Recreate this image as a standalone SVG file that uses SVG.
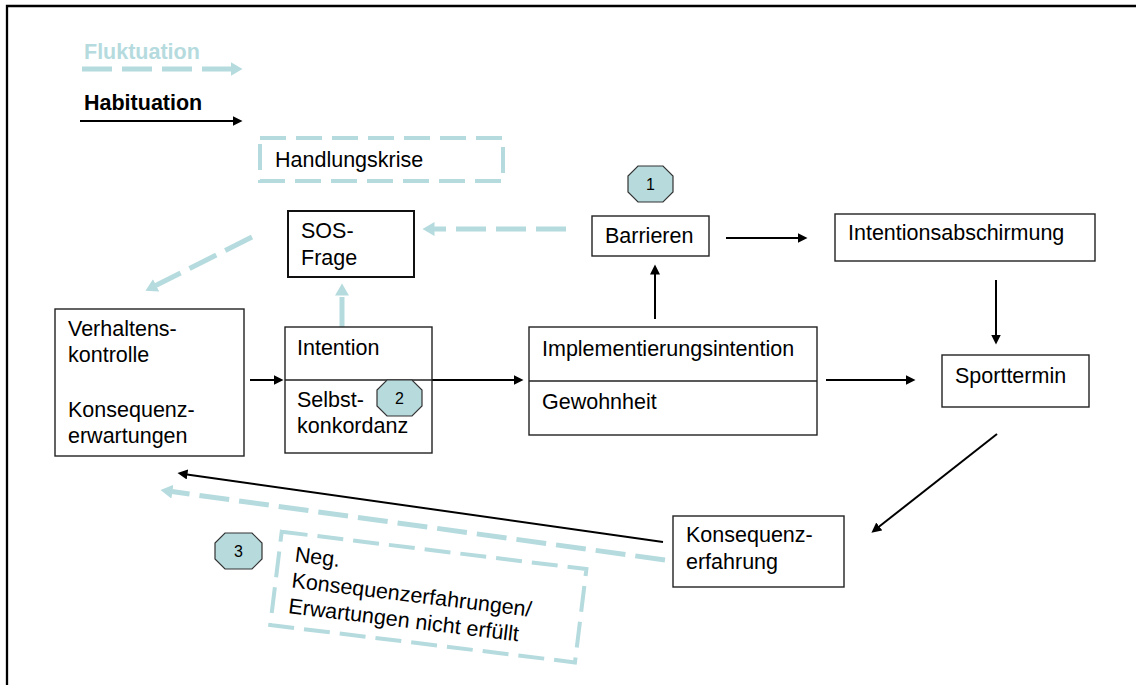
<svg xmlns="http://www.w3.org/2000/svg" width="1136" height="685" viewBox="0 0 1136 685">
  <style>
    text { font-family: "Liberation Sans", Arial, sans-serif; font-size: 21.5px; fill: #000; }
    .legend { font-weight: bold; }
    .fluk { fill: #b5dbde; }
    .box { fill: #fff; stroke: #222; stroke-width: 1.4; }
    .box2 { fill: #fff; stroke: #111; stroke-width: 2; }
    .dbox { fill: none; stroke: #b5dbde; stroke-width: 4; stroke-dasharray: 26 10; }
    .oct { fill: #b7dadd; stroke: #333; stroke-width: 1.2; }
    .num { font-size: 16px; text-anchor: middle; }
    .hab { fill: none; stroke: #000; stroke-width: 2; marker-end: url(#ah); }
    .fl { fill: none; stroke: #b5dbde; stroke-width: 5; stroke-dasharray: 30 10; marker-end: url(#at); }
  </style>
  <defs>
    <marker id="ah" markerUnits="userSpaceOnUse" markerWidth="11" markerHeight="11" refX="0.5" refY="5" orient="auto">
      <path d="M0,0 L10,5 L0,10 z" fill="#000"/>
    </marker>
    <marker id="at" markerUnits="userSpaceOnUse" markerWidth="13" markerHeight="15" refX="0.5" refY="7" orient="auto">
      <path d="M0,0 L12,7 L0,14 z" fill="#b5dbde"/>
    </marker>
  </defs>

  <!-- frame -->
  <path d="M7,685 V6 H1136" fill="none" stroke="#000" stroke-width="2.3"/>

  <!-- legend -->
  <g id="legend">
    <text class="legend fluk" x="84" y="59">Fluktuation</text>
    <line class="fl" x1="82" y1="69" x2="231" y2="69"/>
    <text class="legend" x="84" y="110">Habituation</text>
    <line class="hab" x1="80" y1="121" x2="233" y2="121"/>
  </g>

  <!-- connectors -->
  <g id="connectors">
    <line class="fl" x1="566" y1="229" x2="434" y2="229"/>
    <line class="fl" x1="342" y1="327" x2="342" y2="295"/>
    <line class="fl" x1="252" y1="237" x2="155.7" y2="285.6"/>
    <line class="fl" x1="665" y1="560" x2="171.9" y2="491.6"/>
    <line class="hab" x1="726" y1="238" x2="798" y2="238"/>
    <line class="hab" x1="655" y1="319" x2="655" y2="274"/>
    <line class="hab" x1="996" y1="280" x2="996" y2="335"/>
    <line class="hab" x1="250" y1="380" x2="274" y2="380"/>
    <line class="hab" x1="422" y1="380" x2="514" y2="380"/>
    <line class="hab" x1="826" y1="380" x2="906" y2="380"/>
    <line class="hab" x1="997" y1="434" x2="878.9" y2="526.8"/>
    <line class="hab" x1="663" y1="542" x2="186.9" y2="474.4"/>
  </g>

  <g id="handlungskrise">
    <rect class="dbox" x="260" y="138" width="243" height="43"/>
    <text x="275" y="167">Handlungskrise</text>
  </g>

  <g id="sos">
    <rect class="box2" x="288" y="211" width="126" height="66"/>
    <text x="301" y="238">SOS-</text>
    <text x="301" y="265">Frage</text>
  </g>

  <g id="barrieren">
    <rect class="box" x="592" y="216" width="117" height="40"/>
    <text x="605" y="243">Barrieren</text>
  </g>

  <g id="abschirmung">
    <rect class="box" x="835" y="214" width="260" height="47"/>
    <text x="848" y="240">Intentionsabschirmung</text>
  </g>

  <g id="verhalten">
    <rect class="box" x="55" y="309" width="189" height="147"/>
    <text x="68" y="336">Verhaltens-</text>
    <text x="68" y="362">kontrolle</text>
    <text x="68" y="417">Konsequenz-</text>
    <text x="68" y="443">erwartungen</text>
  </g>

  <g id="intention">
    <rect class="box" x="285" y="327" width="147" height="126"/>
    <line x1="285" y1="380" x2="432" y2="380" stroke="#222" stroke-width="1.4"/>
    <text x="297" y="355">Intention</text>
    <text x="297" y="407">Selbst-</text>
    <text x="297" y="433">konkordanz</text>
  </g>

  <g id="implementierung">
    <rect class="box" x="529" y="327" width="288" height="108"/>
    <line x1="529" y1="381" x2="817" y2="381" stroke="#222" stroke-width="1.4"/>
    <text x="542" y="356">Implementierungsintention</text>
    <text x="542" y="409">Gewohnheit</text>
  </g>

  <g id="sporttermin">
    <rect class="box" x="942" y="355" width="147" height="52"/>
    <text x="955" y="383">Sporttermin</text>
  </g>

  <g id="konsequenzerfahrung">
    <rect class="box" x="673" y="516" width="171" height="71"/>
    <text x="686" y="542">Konsequenz-</text>
    <text x="686" y="569">erfahrung</text>
  </g>

  <g id="negativ" transform="translate(281.7,531.7) rotate(7)">
    <rect class="dbox" x="0" y="0" width="307" height="94"/>
    <text x="16" y="28">Neg.</text>
    <text x="16" y="54">Konsequenzerfahrungen/</text>
    <text x="16" y="80">Erwartungen nicht erfüllt</text>
  </g>

  <g id="marke1">
    <polygon class="oct" points="638,166 663,166 673,176 673,192 663,202 638,202 628,192 628,176"/>
    <text class="num" x="650.5" y="190">1</text>
  </g>
  <g id="marke2">
    <polygon class="oct" points="387,380 412,380 422,390 422,406 412,416 387,416 377,406 377,390"/>
    <text class="num" x="399.5" y="404">2</text>
  </g>
  <g id="marke3">
    <polygon class="oct" points="225,533 252,533 262,543 262,559 252,569 225,569 215,559 215,543"/>
    <text class="num" x="238.5" y="557">3</text>
  </g>
</svg>
